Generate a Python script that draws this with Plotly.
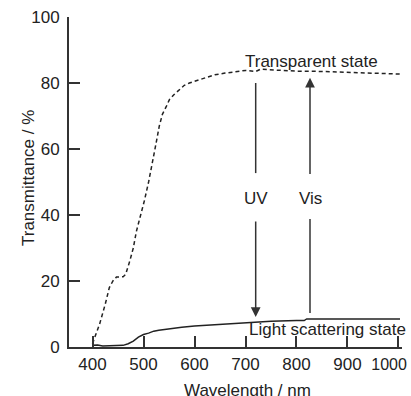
import plotly.graph_objects as go

# Transparent state (dashed)
wl_trans = [400, 405, 414, 425, 433, 440, 447, 460, 465, 473, 480, 486, 495, 502, 510, 518, 525, 531,
            537, 545, 551, 560, 570, 580, 590, 600, 620, 640, 660, 680, 700, 720, 730, 760, 800,
            850, 900, 950, 1003]
t_trans = [1, 3, 7, 13, 18, 20, 21.2, 21.3, 22, 26, 30, 35, 40, 44.5, 50, 57, 62, 67,
           70.5, 73, 75, 76.5, 78, 79.3, 80, 80.5, 81.5, 82.5, 83, 83.5, 83.8, 83.5, 84.2, 83.9, 83.6,
           83.5, 83.3, 83, 82.7]

# Light scattering state (solid)
wl_scat = [400, 410, 420, 450, 460, 470, 480, 490, 500, 510, 520, 530, 550, 575, 600, 650, 700,
           750, 800, 815, 820, 900, 1000, 1003]
t_scat = [0.5, 0.6, 0.3, 0.3, 0.5, 1.0, 1.8, 3.0, 3.8, 4.2, 4.8, 5.1, 5.6, 6.0, 6.4, 6.9, 7.4,
          7.8, 8.0, 8.0, 8.5, 8.5, 8.5, 8.5]

x_ticks = [400, 500, 600, 700, 800, 900, 1000]
x_ticklabels = ["400", "500", "600", "700", "800", "900",
                "<span style='font-size:16px'>1000</span>\u00a0\u00a0\u00a0\u00a0"]
y_ticks = [0, 20, 40, 60, 80, 100]

# Arrows: x position, segments (from, to)
uv_x = 720
uv_upper = [80, 52.7]
uv_lower = [38.5, 9.1]
vis_x = 826.5
vis_lower = [10.3, 38.8]
vis_upper = [52, 81.6]

FONT = "Liberation Sans, Arial, sans-serif"
INK = "#222222"
LINE = "#333333"

fig = go.Figure()
fig.add_trace(go.Scatter(x=wl_trans, y=t_trans, mode="lines",
                         line=dict(color=INK, width=1.5, dash="4px,3px"),
                         name="Transparent state", showlegend=False))
fig.add_trace(go.Scatter(x=wl_scat, y=t_scat, mode="lines",
                         line=dict(color=INK, width=1.5),
                         name="Light scattering state", showlegend=False))

# plain line segments (no head)
fig.add_trace(go.Scatter(x=[uv_x, uv_x], y=uv_upper, mode="lines",
                         line=dict(color=LINE, width=1.5), showlegend=False, hoverinfo="skip"))
fig.add_trace(go.Scatter(x=[vis_x, vis_x], y=vis_lower, mode="lines",
                         line=dict(color=LINE, width=1.5), showlegend=False, hoverinfo="skip"))

f17 = dict(size=17, color=INK, family=FONT)
annotations = [
    dict(x=uv_x, y=uv_lower[1], ax=uv_x, ay=uv_lower[0], xref="x", yref="y", axref="x", ayref="y",
         showarrow=True, arrowhead=2, arrowsize=1.3, arrowwidth=1.5, arrowcolor=LINE, text=""),
    dict(x=vis_x, y=vis_upper[1], ax=vis_x, ay=vis_upper[0], xref="x", yref="y", axref="x", ayref="y",
         showarrow=True, arrowhead=2, arrowsize=1.3, arrowwidth=1.5, arrowcolor=LINE, text=""),
    dict(x=uv_x, y=45, text="UV", showarrow=False, font=f17),
    dict(x=vis_x, y=45, text="Vis", showarrow=False, font=f17),
    dict(x=829, y=86.5, text="Transparent state", showarrow=False, font=f17),
    dict(x=860, y=5.2, text="Light scattering state", showarrow=False, font=f17),
    # axis titles
    dict(x=0, y=0.5, xref="paper", yref="paper", xshift=-41, yshift=4, textangle=-90,
         text="Transmittance / %", showarrow=False, font=f17, xanchor="center", yanchor="middle"),
    dict(x=0.5, y=0, xref="paper", yref="paper", xshift=12, yshift=-43,
         text="Wavelength / nm", showarrow=False, font=f17, xanchor="center", yanchor="middle"),
]

fig.update_layout(
    width=411, height=396,
    margin=dict(l=69, r=9, t=17, b=49),
    paper_bgcolor="white", plot_bgcolor="white",
    font=dict(family=FONT, size=17, color=INK),
    annotations=annotations,
    showlegend=False,
)
fig.update_xaxes(range=[353.9, 1006.9], tickvals=x_ticks, ticktext=x_ticklabels,
                 ticks="inside", ticklen=11, tickwidth=1.5,
                 tickcolor=LINE, showline=True, linewidth=2, linecolor=LINE, showgrid=False,
                 zeroline=False, ticklabelstandoff=1, ticklabeloverflow="allow", automargin=False,
                 tickfont=f17)
fig.update_yaxes(range=[0, 100], tickvals=y_ticks, ticks="inside", ticklen=11, tickwidth=1.5,
                 tickcolor=LINE, showline=True, linewidth=2, linecolor=LINE, showgrid=False,
                 zeroline=False, ticklabelstandoff=4, automargin=False, tickfont=f17)

fig.write_html("out.html", config={"displayModeBar": False},
               post_script="document.body.style.margin='0';document.body.style.overflow='hidden';")
